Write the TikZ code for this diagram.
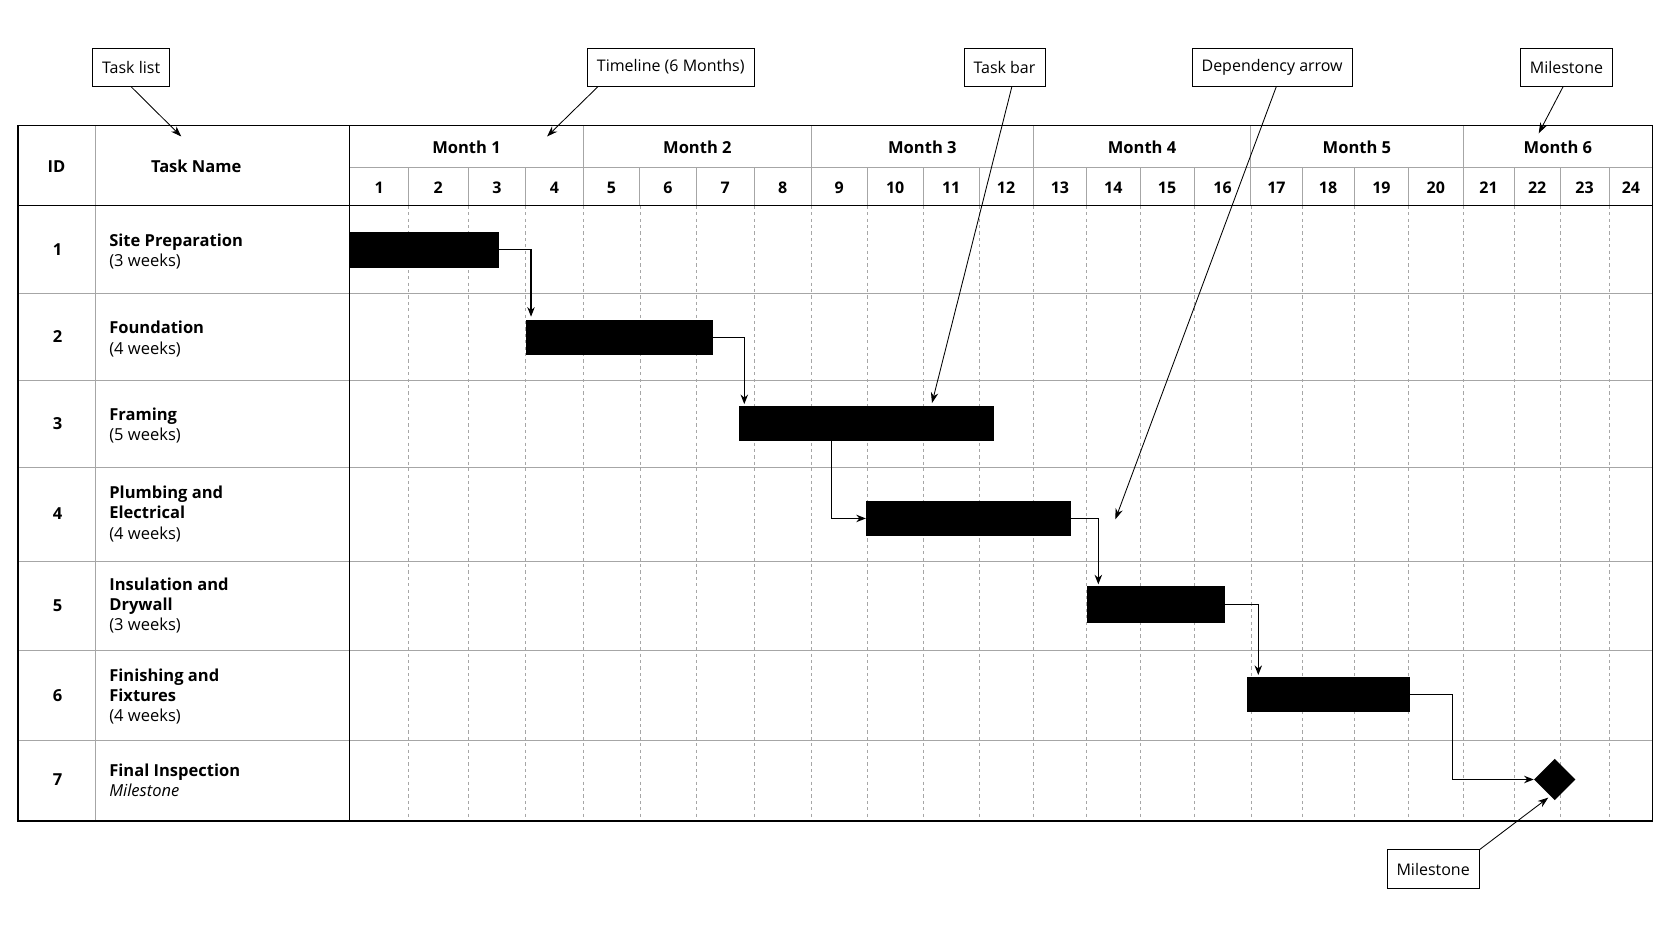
\documentclass[tikz,border=0pt]{standalone}
\usepackage{fontspec}
\setmainfont{Open Sans}
\usetikzlibrary{arrows.meta,shapes.geometric}
\tikzset{
  grid line/.style={gray!70, line width=0.6pt},
  week line/.style={gray!70, dashed, line width=0.5pt},
  frame line/.style={black, line width=1.2pt},
  task bar/.style={fill=black, draw=black},
  dep/.style={-{Stealth[length=9pt,width=7pt]}, line width=1.1pt},
  callout/.style={draw, line width=0.8pt, fill=white, minimum height=36pt, inner xsep=9pt, font=\fontsize{15}{18}\selectfont},
  callout arrow/.style={-{Stealth[length=10pt,width=7pt]}, line width=0.8pt},
  head/.style={font=\fontsize{15.5}{18}\selectfont\bfseries},
  cell/.style={font=\fontsize{15.5}{18}\selectfont},
  task/.style={anchor=west, align=left, font=\fontsize{15.5}{19}\selectfont}
}
\begin{document}
\begin{tikzpicture}[x=1pt, y=-1pt]
  \useasboundingbox (0,0) rectangle (1568,882);
  % week grid
  \foreach \x in {383,439,493,547,600,653,707,761,813,866,918,969,1019,1069,1120,1173,1221,1270,1321,1372,1420,1463,1509}
    \draw[week line] (\x,193) -- (\x,770);
  \foreach \y in {275,357,438,526,610,694}
    \draw[grid line] (17,\y) -- (1550,\y);
  % header
  \draw[grid line] (328,157) -- (1550,157);
  \foreach \x in {383,439,493,547,600,653,707,761,813,866,918,969,1019,1069,1120,1173,1221,1270,1321,1372,1420,1463,1509}
    \draw[grid line] (\x,157) -- (\x,193);
  \foreach \x in {547,761,969,1173,1372}
    \draw[grid line] (\x,118) -- (\x,193);
  \draw[grid line] (89,118) -- (89,770);
  \draw[frame line] (17,193) -- (1550,193);
  \draw[frame line] (328,118) -- (328,770);
  \draw[frame line] (17,118) rectangle (1550,770);
  \node[head] (id) at (53,156) {ID};
  \node[head] (tname) at (184,156) {Task Name};
  \foreach \a/\b/\m in {328/547/1,547/761/2,761/969/3,969/1173/4,1173/1372/5,1372/1550/6}
    \node[head] (m\m) at ({(\a+\b)/2},138) {Month \m};
  \foreach \a/\b [count=\w] in {328/383,383/439,439/493,493/547,547/600,600/653,653/707,707/761,761/813,813/866,866/918,918/969,969/1019,1019/1069,1069/1120,1120/1173,1173/1221,1221/1270,1270/1321,1321/1372,1372/1420,1420/1463,1463/1509,1509/1550}
    \node[head, font=\fontsize{15}{18}\selectfont\bfseries] (w\w) at ({(\a+\b)/2},176) {\w};
  % task list
  \foreach \y [count=\i] in {234,316,397,482,568,652,731}
    \node[head] (id\i) at (54,\y) {\i};
  \node[task] (t1) at (99,236) {\textbf{Site Preparation}\\(3 weeks)};
  \node[task] (t2) at (99,318) {\textbf{Foundation}\\(4 weeks)};
  \node[task] (t3) at (99,399) {\textbf{Framing}\\(5 weeks)};
  \node[task] (t4) at (99,482) {\textbf{Plumbing and}\\\textbf{Electrical}\\(4 weeks)};
  \node[task] (t5) at (99,568) {\textbf{Insulation and}\\\textbf{Drywall}\\(3 weeks)};
  \node[task] (t6) at (99,653) {\textbf{Finishing and}\\\textbf{Fixtures}\\(4 weeks)};
  \node[task] (t7) at (99,732) {\textbf{Final Inspection}\\\textit{Milestone}};
  % bars
  \node[task bar, anchor=north west, minimum width=139pt, minimum height=32pt, inner sep=0pt] (b1) at (328,218) {};
  \node[task bar, anchor=north west, minimum width=175pt, minimum height=32pt, inner sep=0pt] (b2) at (493,300) {};
  \node[task bar, anchor=north west, minimum width=238pt, minimum height=32pt, inner sep=0pt] (b3) at (693,381) {};
  \node[task bar, anchor=north west, minimum width=191pt, minimum height=32pt, inner sep=0pt] (b4) at (812,470) {};
  \node[task bar, anchor=north west, minimum width=129pt, minimum height=33pt, inner sep=0pt] (b5) at (1019,550) {};
  \node[task bar, anchor=north west, minimum width=152pt, minimum height=32pt, inner sep=0pt] (b6) at (1169,635) {};
  \node[diamond, fill=black, minimum size=39pt, inner sep=0pt] (ms) at (1458,731) {};
  % dependencies
  \draw[dep] (b1.east) -| (498,297);
  \draw[dep] (b2.east) -| (698,379);
  \draw[dep] (780,413) |- (b4.west);
  \draw[dep] (b4.east) -| (1030,548);
  \draw[dep] (b5.east) -| (1180,633);
  \draw[dep] (b6.east) -| (1362,731) -- (ms.west);
  % callouts
  \node[callout] (c1) at (123,63) {Task list};
  \node[callout] (c2) at (629,63) {Timeline (6 Months)};
  \node[callout] (c3) at (942,63) {Task bar};
  \node[callout] (c4) at (1193,63) {Dependency arrow};
  \node[callout] (c5) at (1469,63) {Milestone};
  \node[callout] (c6) at (1344,815) {Milestone};
  \coordinate (p1) at (170,128);
  \coordinate (p2) at (513,128);
  \coordinate (p3) at (874,378);
  \coordinate (p4) at (1046,487);
  \coordinate (p5) at (1443,125);
  \coordinate (p6) at (1452,748);
  \draw[callout arrow] (c1.south) -- (p1);
  \draw[callout arrow] (561,81) -- (p2);
  \draw[callout arrow] (949,81) -- (p3);
  \draw[callout arrow] (1197,81) -- (p4);
  \draw[callout arrow] (1466,81) -- (p5);
  \draw[callout arrow] (c6.north east) -- (p6);
\end{tikzpicture}
\end{document}
